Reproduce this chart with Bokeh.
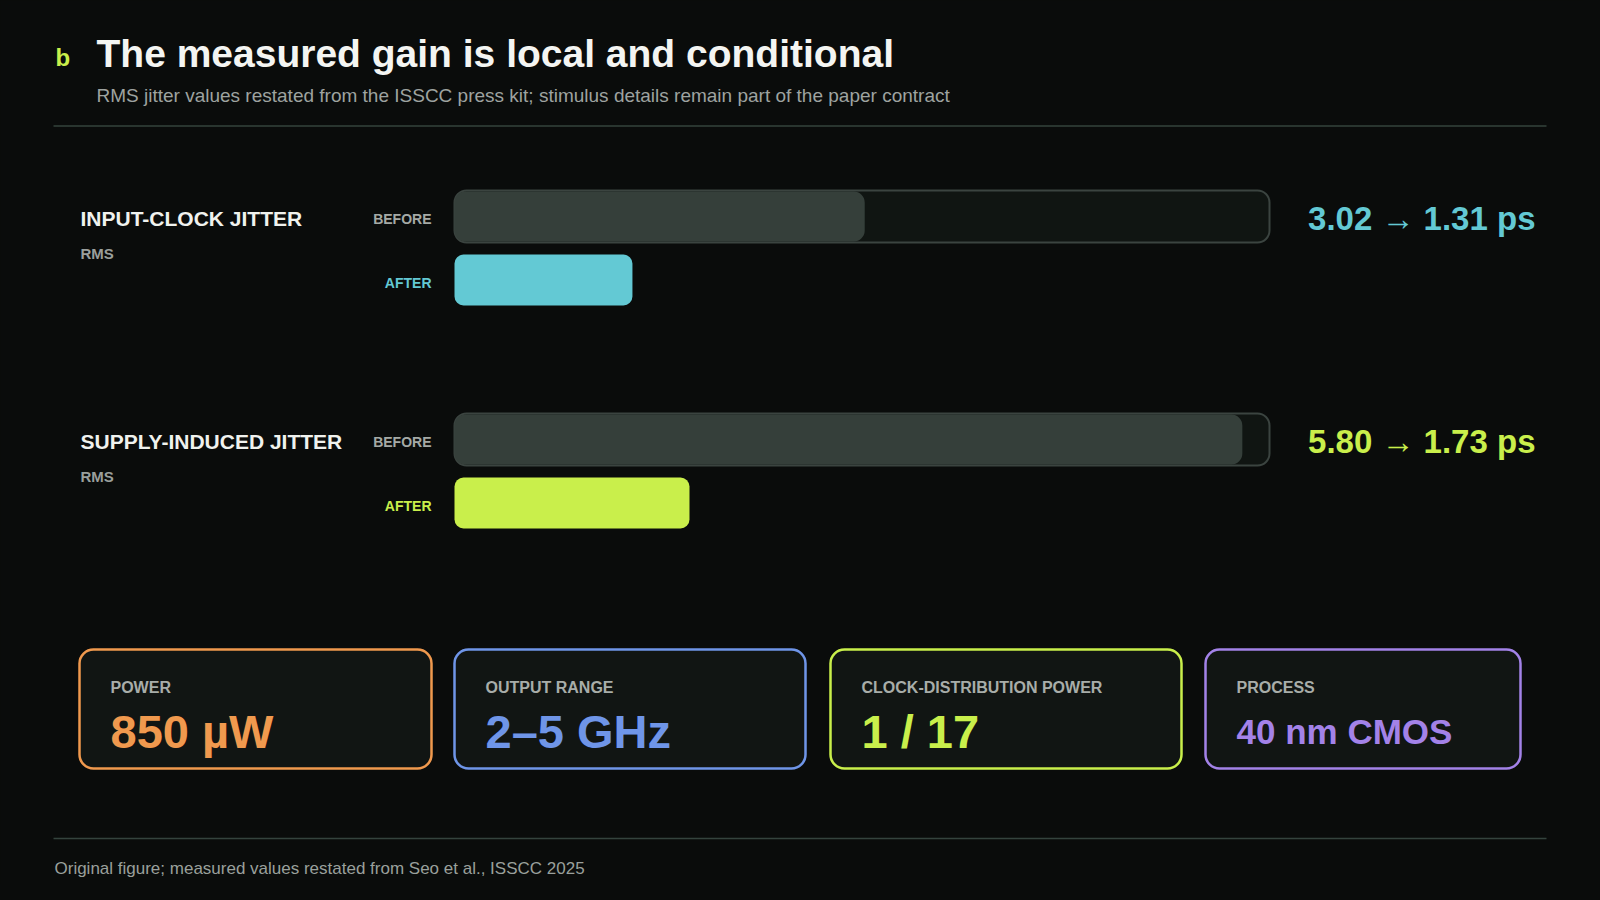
from bokeh.plotting import figure
from bokeh.models import Range1d, Label, ColumnDataSource
from bokeh.embed import file_html
from bokeh.resources import INLINE

# ---------------- data ----------------
metrics = ["INPUT-CLOCK JITTER", "SUPPLY-INDUCED JITTER"]
metric_units = ["RMS", "RMS"]
before_ps = [3.02, 5.80]
after_ps = [1.31, 1.73]
accent = ["#63c9d4", "#c9ef4b"]
scale_max_ps = 6.0

card_labels = ["POWER", "OUTPUT RANGE", "CLOCK-DISTRIBUTION POWER", "PROCESS"]
card_values = ["850 µW", "2–5 GHz", "1 / 17", "40 nm CMOS"]
card_colors = ["#f0994e", "#6f95e8", "#c9ef4b", "#a382e8"]

title = "The measured gain is local and conditional"
subtitle = ("RMS jitter values restated from the ISSCC press kit; "
            "stimulus details remain part of the paper contract")
footer = "Original figure; measured values restated from Seo et al., ISSCC 2025"

# ---------------- layout ----------------
BG = "#0a0c0b"
W, H = 1584, 884
M = 0  # observed page offset


def X(px):
    return px - M


def Y(py):
    return py - M


TRACK_L, TRACK_R = 454, 1269
k = (X(TRACK_R) - X(TRACK_L)) / scale_max_ps
val_start = -X(TRACK_L) / k
val_end = (W - X(TRACK_L)) / k

p = figure(width=W, height=H, x_range=Range1d(0, W), y_range=Range1d(H, 0),
           output_backend="svg", toolbar_location=None, min_border=0,
           x_axis_location=None, y_axis_location=None)
p.extra_x_ranges = {"val": Range1d(val_start, val_end)}
p.grid.visible = False
p.outline_line_color = None
p.background_fill_color = BG
p.border_fill_color = BG

FONT = "Liberation Sans"


def label(x, y, text, size, color, bold=False, align="left"):
    p.add_layout(Label(x=x, y=y, text=text, text_font=FONT,
                       text_font_size=f"{size}px", text_color=color,
                       text_font_style="bold" if bold else "normal",
                       text_align=align, text_baseline="middle"))


# header
label(X(55), Y(57), "b", 24, "#c9ef4b", bold=True)
label(X(96), Y(53), title, 39, "#f4f5f2", bold=True)
label(X(96), Y(95), subtitle, 19, "#9ea3a0")
p.segment(x0=[X(53)], x1=[X(1546)], y0=[Y(125.5)], y1=[Y(125.5)],
          line_color="#34433d", line_width=1.5)

# bars
row_top = [Y(190), Y(413)]
BAR_H = 52
AFTER_OFF = 64

track_src = ColumnDataSource(dict(
    left=[0.0] * len(metrics), right=[scale_max_ps] * len(metrics),
    top=row_top, bottom=[t + BAR_H for t in row_top]))
p.quad(left="left", right="right", top="top", bottom="bottom", source=track_src,
       x_range_name="val", fill_color="#101512", line_color="#3b4440",
       line_width=2, border_radius=12)

before_src = ColumnDataSource(dict(
    left=[0.0] * len(metrics), right=before_ps,
    top=[t + 1 for t in row_top], bottom=[t + BAR_H - 1 for t in row_top]))
p.quad(left="left", right="right", top="top", bottom="bottom", source=before_src,
       x_range_name="val", fill_color="#353f3a", line_color=None,
       border_radius=11)

after_src = ColumnDataSource(dict(
    left=[0.0] * len(metrics), right=after_ps, color=accent,
    top=[t + AFTER_OFF for t in row_top],
    bottom=[t + AFTER_OFF + 51 for t in row_top]))
p.quad(left="left", right="right", top="top", bottom="bottom", source=after_src,
       x_range_name="val", fill_color="color", line_color=None,
       border_radius=9)

for i, name in enumerate(metrics):
    t = row_top[i]
    label(X(80), t + 28, name, 21, "#f0f2ee", bold=True)
    label(X(80), t + 63, metric_units[i], 15, "#9a9f9c", bold=True)
    label(X(431), t + 28, "BEFORE", 14, "#a5aaa6", bold=True, align="right")
    label(X(431), t + 92, "AFTER", 14, accent[i], bold=True, align="right")
    label(X(1535), t + 28, f"{before_ps[i]:.2f} → {after_ps[i]:.2f} ps", 33,
          accent[i], bold=True, align="right")

# cards
card_left = [79, 454, 830, 1205]
card_right = [431, 805, 1181, 1520]
card_value_size = [47, 47, 47, 35]
card_src = ColumnDataSource(dict(
    left=[X(v) for v in card_left], right=[X(v) for v in card_right],
    top=[Y(649)] * 4, bottom=[Y(768)] * 4, color=card_colors))
p.quad(left="left", right="right", top="top", bottom="bottom", source=card_src,
       fill_color="#111513", line_color="color", line_width=2.5,
       border_radius=14)
for i in range(4):
    label(X(card_left[i] + 31), Y(687), card_labels[i], 16, "#a8ada9", bold=True)
    label(X(card_left[i] + 31), Y(731), card_values[i], card_value_size[i],
          card_colors[i], bold=True)

# footer
p.segment(x0=[X(53)], x1=[X(1546)], y0=[Y(838)], y1=[Y(838)],
          line_color="#34433d", line_width=1.5)
label(X(54), Y(868), footer, 17, "#9aa09c")

TEMPLATE = ("{% block postamble %}<style>html,body{background:" + BG +
            ";}</style>{% endblock %}")
open("out.html", "w").write(file_html(p, INLINE, template=TEMPLATE))
